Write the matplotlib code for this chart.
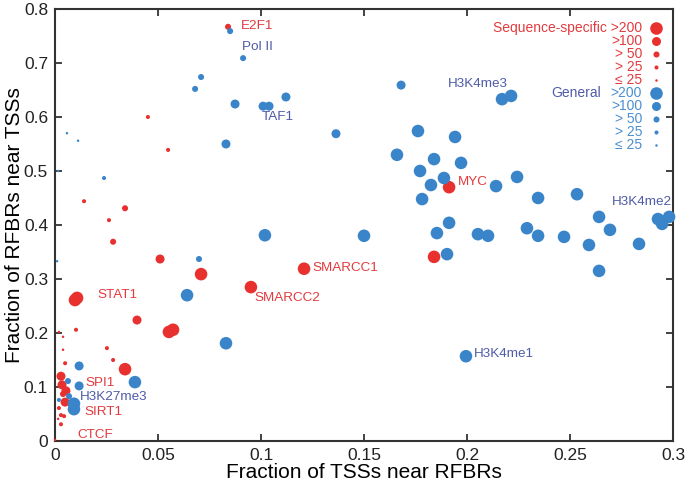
import matplotlib
matplotlib.use("Agg")
import matplotlib.pyplot as plt
import numpy as np

plt.rcParams['font.family'] = ['Liberation Sans', 'DejaVu Sans']

# ---------------- data ----------------
# size classes: 4 = >200, 3 = >100, 2 = >50, 1 = >25, 0 = <=25
blue_x = [0.0850, 0.0913, 0.0709, 0.0680, 0.0874, 0.1010, 0.1039, 0.1121, 0.0830, 0.1364,
          0.1680, 0.2170, 0.2214, 0.1762, 0.1942, 0.1660, 0.1840, 0.1971, 0.1772, 0.1888,
          0.1825, 0.1782, 0.2141, 0.2243, 0.2345, 0.2534, 0.2641, 0.2694, 0.2927, 0.2947,
          0.2981, 0.1913, 0.1854, 0.2053, 0.2102, 0.2291, 0.2345, 0.2471, 0.2592, 0.2835,
          0.2641, 0.1903, 0.1995, 0.1019, 0.1500, 0.0699, 0.0641, 0.0830, 0.0058, 0.0112,
          0.0015, 0.0238, 0.0010, 0.0117, 0.0063, 0.0117, 0.0388, 0.0068, 0.0019, 0.0092,
          0.0092]
blue_y = [0.759, 0.709, 0.674, 0.652, 0.624, 0.620, 0.620, 0.637, 0.550, 0.569,
          0.659, 0.633, 0.639, 0.574, 0.563, 0.530, 0.522, 0.515, 0.500, 0.487,
          0.474, 0.448, 0.472, 0.489, 0.450, 0.457, 0.415, 0.391, 0.411, 0.402,
          0.415, 0.404, 0.385, 0.383, 0.380, 0.394, 0.380, 0.378, 0.363, 0.365,
          0.315, 0.346, 0.157, 0.381, 0.380, 0.337, 0.270, 0.181, 0.570, 0.556,
          0.500, 0.487, 0.333, 0.139, 0.111, 0.102, 0.109, 0.083, 0.076, 0.069,
          0.059]
blue_cls = [2, 2, 2, 2, 3, 3, 3, 3, 3, 3,
            3, 4, 4, 4, 4, 4, 4, 4, 4, 4,
            4, 4, 4, 4, 4, 4, 4, 4, 4, 4,
            4, 4, 4, 4, 4, 4, 4, 4, 4, 4,
            4, 4, 4, 4, 4, 2, 4, 4, 0, 0,
            0, 1, 0, 3, 2, 3, 4, 2, 1, 4,
            4]

red_x = [0.0840, 0.0451, 0.0549, 0.0141, 0.0340, 0.0262, 0.0282, 0.0510, 0.0709, 0.1209,
         0.0951, 0.0553, 0.0573, 0.1913, 0.1840, 0.0097, 0.0107, 0.0398, 0.0102, 0.0019,
         0.0039, 0.0039, 0.0252, 0.0282, 0.0049, 0.0340, 0.0029, 0.0034, 0.0053, 0.0039,
         0.0049, 0.0019, 0.0029, 0.0044, 0.0015, 0.0029, 0.0000]
red_y = [0.767, 0.600, 0.539, 0.444, 0.431, 0.409, 0.369, 0.337, 0.309, 0.319,
         0.285, 0.202, 0.206, 0.470, 0.341, 0.261, 0.265, 0.224, 0.206, 0.202,
         0.193, 0.169, 0.172, 0.150, 0.144, 0.133, 0.120, 0.104, 0.093, 0.087,
         0.072, 0.061, 0.048, 0.046, 0.041, 0.031, 0.002]
red_cls = [2, 1, 1, 1, 2, 1, 2, 3, 4, 4,
           4, 4, 4, 4, 4, 4, 4, 3, 1, 0,
           0, 0, 1, 1, 1, 4, 3, 3, 3, 2,
           3, 1, 1, 1, 0, 1, 0]

red_labels = ["E2F1", "SMARCC1", "SMARCC2", "MYC", "STAT1", "SPI1", "SIRT1", "CTCF"]
red_label_x = [0.0900, 0.1252, 0.0966, 0.1956, 0.0204, 0.0146, 0.0141, 0.0107]
red_label_y = [0.769, 0.320, 0.264, 0.480, 0.270, 0.107, 0.054, 0.011]

blue_labels = ["Pol II", "TAF1", "H3K4me3", "H3K4me2", "H3K4me1", "H3K27me3"]
blue_label_x = [0.0908, 0.1005, 0.1908, 0.2704, 0.2034, 0.0121]
blue_label_y = [0.730, 0.600, 0.661, 0.443, 0.161, 0.081]

legend_red_labels = ["Sequence-specific >200", ">100", "> 50", "> 25", "\u2264 25"]
legend_blue_labels = [">200", ">100", "> 50", "> 25", "\u2264 25"]
legend_cls = [4, 3, 2, 1, 0]

xticks = [0, 0.05, 0.1, 0.15, 0.2, 0.25, 0.3]
xtick_labels = ["0", "0.05", "0.1", "0.15", "0.2", "0.25", "0.3"]
yticks = [0, 0.1, 0.2, 0.3, 0.4, 0.5, 0.6, 0.7, 0.8]
ytick_labels = ["0", "0.1", "0.2", "0.3", "0.4", "0.5", "0.6", "0.7", "0.8"]

# ---------------- style ----------------
SIZES = [3.2, 8.5, 19, 42, 82]
RED = "#E8302F"
BLUE = "#3A85C9"
RED_TXT = "#E23B3F"
BLUE_TXT = "#4F5BA8"
LIGHT_BLUE_TXT = "#4A8FD0"

fig = plt.figure(figsize=(6.85, 4.88), dpi=100)
ax = fig.add_axes([0.0803, 0.0963, 0.9022, 0.8853])

ax.scatter(red_x, red_y, s=[SIZES[c] for c in red_cls], c=RED, linewidths=0,
           clip_on=False, zorder=3)
ax.scatter(blue_x, blue_y, s=[SIZES[c] for c in blue_cls], c=BLUE, linewidths=0,
           clip_on=False, zorder=3)

for t, x, y in zip(red_labels, red_label_x, red_label_y):
    ax.text(x, y, t, color=RED_TXT, fontsize=9.7, va='center', ha='left', zorder=4)
for t, x, y in zip(blue_labels, blue_label_x, blue_label_y):
    ax.text(x, y, t, color=BLUE_TXT, fontsize=9.7, va='center', ha='left', zorder=4)

# legend (custom)
mx, tx = 0.9725, 0.950
y0, dy = 0.956, 0.0301
for i, (lab, c) in enumerate(zip(legend_red_labels, legend_cls)):
    yy = y0 - i * dy
    ax.scatter([mx], [yy], s=SIZES[c], c=RED, linewidths=0, transform=ax.transAxes,
               clip_on=False, zorder=5)
    ax.text(tx, yy, lab, color=RED_TXT, fontsize=10, ha='right', va='center',
            transform=ax.transAxes)
for i, (lab, c) in enumerate(zip(legend_blue_labels, legend_cls)):
    yy = y0 - (i + 5) * dy
    ax.scatter([mx], [yy], s=SIZES[c], c=BLUE, linewidths=0, transform=ax.transAxes,
               clip_on=False, zorder=5)
    ax.text(tx, yy, lab, color=LIGHT_BLUE_TXT, fontsize=10, ha='right', va='center',
            transform=ax.transAxes)
    if i == 0:
        ax.text(tx - 0.067, yy, "General", color=BLUE_TXT, fontsize=10, ha='right',
                va='center', transform=ax.transAxes)

ax.set_xlim(0, 0.3)
ax.set_ylim(0, 0.8)
ax.set_xticks(xticks)
ax.set_xticklabels(xtick_labels)
ax.set_yticks(yticks)
ax.set_yticklabels(ytick_labels)
ax.tick_params(direction='in', length=5, width=1.2, top=True, right=True,
               labelsize=12.5, colors='#222222', pad=5)
for sp in ax.spines.values():
    sp.set_linewidth(1.5)
    sp.set_color('#333333')

ax.set_xlabel("Fraction of TSSs near RFBRs", fontsize=15, labelpad=0)
ax.set_ylabel("Fraction of RFBRs near TSSs", fontsize=15)
ax.yaxis.set_label_coords(-0.050, 0.5)

fig.savefig("out.png", dpi=100)
